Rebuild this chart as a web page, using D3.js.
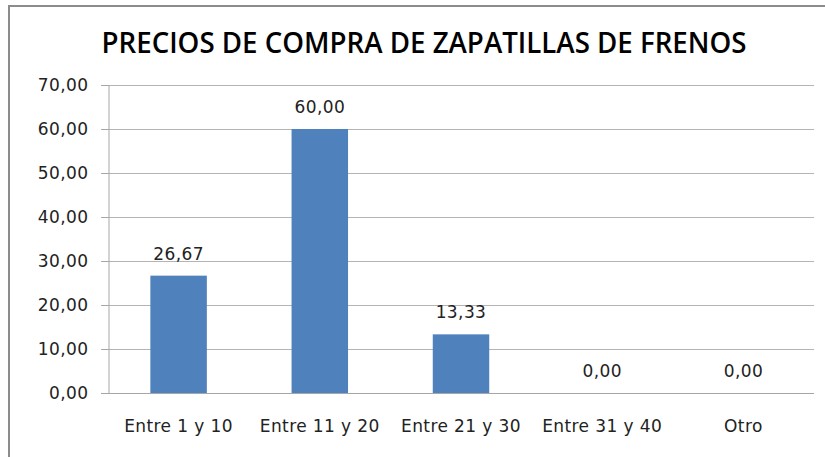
<!DOCTYPE html>
<html>
<head>
<meta charset="utf-8">
<script src="https://cdn.jsdelivr.net/npm/d3@7"></script>
<style>
  body { margin: 0; background: #fff; }
  svg { display: block; font-family: "DejaVu Sans", sans-serif; }
  .lbl { font-size: 17px; letter-spacing: 0.4px; fill: #222; }
</style>
</head>
<body>
<svg id="chart" width="825" height="457"></svg>
<script>
const categories = [`Entre 1 y 10`, `Entre 11 y 20`, `Entre 21 y 30`, `Entre 31 y 40`, `Otro`];
const values = [26.67, 60.00, 13.33, 0.00, 0.00];
const yTicks = [0, 10, 20, 30, 40, 50, 60, 70];
const title = `PRECIOS DE COMPRA DE ZAPATILLAS DE FRENOS`;

const svg = d3.select(`#chart`);
const fmt = d => d3.format(`.2f`)(d).replace(`.`, `,`);

const plot = { left: 108, right: 814, top: 85, bottom: 393 };

// outer frame
svg.append(`rect`)
  .attr(`x`, 9).attr(`y`, 6)
  .attr(`width`, 830).attr(`height`, 470)
  .attr(`fill`, `none`)
  .attr(`stroke`, `#8c8c8c`)
  .attr(`stroke-width`, 2);

svg.append(`text`)
  .attr(`x`, 424).attr(`y`, 53)
  .attr(`text-anchor`, `middle`)
  .attr(`textLength`, 645)
  .attr(`lengthAdjust`, `spacingAndGlyphs`)
  .style(`font-family`, `"Open Sans", sans-serif`)
  .style(`font-size`, `28px`)
  .style(`font-weight`, 600)
  .attr(`fill`, `#000`)
  .text(title);

const x = d3.scaleBand()
  .domain(categories)
  .range([plot.left, plot.right])
  .paddingInner(0.6)
  .paddingOuter(0.3);

const y = d3.scaleLinear()
  .domain([0, 70])
  .range([plot.bottom, plot.top]);

// gridlines
svg.append(`g`)
  .selectAll(`line`)
  .data(yTicks)
  .enter().append(`line`)
    .attr(`x1`, plot.left - 7)
    .attr(`x2`, plot.right)
    .attr(`y1`, d => y(d) + 0.5)
    .attr(`y2`, d => y(d) + 0.5)
    .attr(`stroke`, d => d === 0 ? `#a6a6a6` : `#b4b4b4`)
    .attr(`stroke-width`, 1);

const yAxis = svg.append(`g`)
  .attr(`transform`, `translate(${plot.left + 0.5},0)`)
  .call(d3.axisLeft(y).tickValues(yTicks).tickFormat(fmt).tickSize(7).tickPadding(13));
yAxis.select(`.domain`).attr(`stroke`, `#a6a6a6`);
yAxis.selectAll(`.tick line`).attr(`stroke`, `#a6a6a6`);
yAxis.selectAll(`text`)
  .attr(`class`, `lbl`)
  .style(`font-family`, `"DejaVu Sans", sans-serif`)
  .attr(`fill`, `#222`);

// bars
svg.append(`g`)
  .selectAll(`rect`)
  .data(values)
  .enter().append(`rect`)
    .attr(`x`, (d, i) => x(categories[i]))
    .attr(`y`, d => y(d))
    .attr(`width`, x.bandwidth())
    .attr(`height`, d => plot.bottom - y(d))
    .attr(`fill`, `#4f81bd`);

// value labels
svg.append(`g`)
  .selectAll(`text`)
  .data(values)
  .enter().append(`text`)
    .attr(`class`, `lbl`)
    .attr(`x`, (d, i) => x(categories[i]) + x.bandwidth() / 2)
    .attr(`y`, d => y(d) - 16)
    .attr(`text-anchor`, `middle`)
    .text(fmt);

// category labels
svg.append(`g`)
  .selectAll(`text`)
  .data(categories)
  .enter().append(`text`)
    .attr(`class`, `lbl`)
    .attr(`x`, d => x(d) + x.bandwidth() / 2)
    .attr(`y`, 432)
    .attr(`text-anchor`, `middle`)
    .text(d => d);
</script>
</body>
</html>
